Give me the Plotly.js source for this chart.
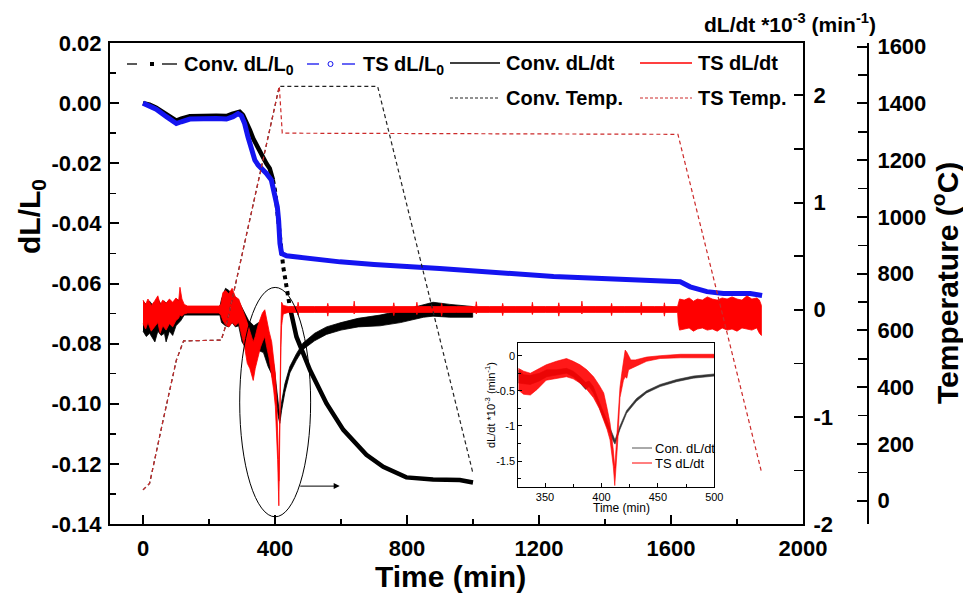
<!DOCTYPE html>
<html><head><meta charset="utf-8">
<script src="https://cdn.plot.ly/plotly-3.0.1.min.js"></script>
<style>html,body{margin:0;padding:0;background:#fff}#chart{width:963px;height:598px}</style>
</head><body><div id="chart"></div>
<script>
// ---------- DATA ----------
// TS dL/L0 (left axis)
const tsL0T = [0, 20, 40, 71, 101, 116, 142, 222, 253, 273, 288, 298, 308, 318, 329, 339, 349, 359, 374, 389, 399, 407, 411, 413, 415, 420, 435, 597, 700, 899, 1244, 1628, 1658, 1709, 1759, 1840, 1876];
const tsL0V = [0, -0.0008, -0.002, -0.0045, -0.0068, -0.0062, -0.0053, -0.0051, -0.0053, -0.0045, -0.0035, -0.0042, -0.0068, -0.0112, -0.0157, -0.019, -0.0206, -0.0217, -0.0234, -0.0256, -0.03, -0.0345, -0.039, -0.0434, -0.0467, -0.05, -0.0508, -0.0528, -0.0537, -0.055, -0.0577, -0.0594, -0.0611, -0.0627, -0.0633, -0.0633, -0.064];
// Conv. dL/L0 (left axis)
const convL0T = [0, 20, 40, 71, 101, 116, 142, 222, 253, 270, 283, 293, 303, 313, 324, 334, 344, 354, 364, 374, 384, 389, 394, 400, 405, 410, 415, 420, 425, 430, 437, 445, 465, 506, 556, 607, 652, 677, 728, 798, 879, 960, 1000];
const convL0V = [0, -0.0005, -0.0015, -0.0038, -0.0058, -0.0052, -0.0044, -0.0042, -0.0043, -0.0036, -0.003, -0.0029, -0.004, -0.0062, -0.009, -0.0118, -0.014, -0.0162, -0.0184, -0.0201, -0.0217, -0.024, -0.0256, -0.029, -0.034, -0.04, -0.046, -0.0511, -0.0545, -0.0578, -0.062, -0.0678, -0.0777, -0.0888, -0.0999, -0.1087, -0.114, -0.117, -0.121, -0.1245, -0.1252, -0.1254, -0.1262];
// steep part of Conv. dL/L0 drawn as separate dots
const convL0DotFrom = 394, convL0DotTo = 445;

// TS dL/dt (right axis, *1e-3 min^-1): time, upper and lower edge of the noisy trace
const tsRateT = [0, 8, 15, 25, 35, 45, 52, 60, 70, 80,
  90, 100, 108, 112, 118, 125, 135, 230, 236, 242,
  250, 260, 270, 280, 290, 300, 308, 316, 324, 330,
  334, 340, 348, 356, 362, 369, 375, 382, 390, 396,
  401, 405, 408, 410.5, 411.6, 412.7, 414, 416, 418, 420,
  422, 425, 440, 468, 470, 472, 520, 558, 560, 562,
  600, 638, 640, 642, 700, 758, 760, 762, 800, 828,
  830, 832, 870, 903, 905, 907, 950, 1008, 1010, 1012,
  1050, 1088, 1090, 1092, 1130, 1178, 1180, 1182, 1220, 1258,
  1260, 1262, 1300, 1328, 1330, 1332, 1370, 1418, 1420, 1422,
  1460, 1508, 1510, 1512, 1550, 1578, 1580, 1582, 1620, 1622,
  1626, 1640, 1655, 1668, 1680, 1695, 1710, 1725, 1740, 1755,
  1770, 1785, 1800, 1815, 1830, 1845, 1860, 1868, 1874];
const tsRateUp = [0.09, 0.05, 0.10, 0.04, 0.08, 0.13, 0.05, 0.09, 0.06, 0.10,
  0.07, 0.11, 0.08, 0.21, 0.10, 0.05, 0.035, 0.035, 0.05, 0.16,
  0.18, 0.15, 0.20, 0.12, 0.10, 0.02, -0.05, -0.12, -0.20, -0.25,
  -0.30, -0.25, -0.15, -0.08, -0.03, 0.00, -0.10, -0.20, -0.30, -0.45,
  -0.60, -0.85, -1.10, -1.40, -1.60, -1.30, -0.90, -0.45, -0.15, 0.07,
  0.05, 0.04, 0.03, 0.03, 0.07, 0.03, 0.03, 0.03, 0.06, 0.03,
  0.03, 0.03, 0.08, 0.03, 0.03, 0.03, 0.065, 0.03, 0.03, 0.03,
  0.07, 0.03, 0.03, 0.03, 0.06, 0.03, 0.03, 0.03, 0.075, 0.03,
  0.03, 0.03, 0.06, 0.03, 0.03, 0.03, 0.07, 0.03, 0.03, 0.03,
  0.065, 0.03, 0.03, 0.03, 0.08, 0.03, 0.03, 0.03, 0.06, 0.03,
  0.03, 0.03, 0.07, 0.03, 0.03, 0.03, 0.065, 0.03, 0.03, 0.06,
  0.10, 0.09, 0.11, 0.08, 0.10, 0.09, 0.12, 0.10, 0.09, 0.11,
  0.10, 0.12, 0.10, 0.09, 0.13, 0.10, 0.11, 0.09, 0.04];
const tsRateLo = [-0.13, -0.18, -0.12, -0.20, -0.16, -0.12, -0.22, -0.15, -0.19, -0.13,
  -0.16, -0.10, -0.08, -0.05, -0.06, -0.04, -0.03, -0.03, -0.05, -0.10,
  -0.14, -0.16, -0.12, -0.15, -0.12, -0.25, -0.35, -0.50, -0.55, -0.62,
  -0.66, -0.55, -0.45, -0.35, -0.30, -0.25, -0.35, -0.45, -0.60, -0.75,
  -0.90, -1.10, -1.40, -1.70, -1.83, -1.60, -1.20, -0.70, -0.35, -0.15,
  -0.10, -0.04, -0.025, -0.025, -0.05, -0.025, -0.025, -0.025, -0.06, -0.025,
  -0.025, -0.025, -0.04, -0.025, -0.025, -0.025, -0.055, -0.025, -0.025, -0.025,
  -0.045, -0.025, -0.025, -0.025, -0.06, -0.025, -0.025, -0.025, -0.04, -0.025,
  -0.025, -0.025, -0.055, -0.025, -0.025, -0.025, -0.045, -0.025, -0.025, -0.025,
  -0.06, -0.025, -0.025, -0.025, -0.04, -0.025, -0.025, -0.025, -0.055, -0.025,
  -0.025, -0.025, -0.05, -0.025, -0.025, -0.025, -0.06, -0.025, -0.025, -0.12,
  -0.19, -0.18, -0.17, -0.20, -0.18, -0.17, -0.19, -0.18, -0.20, -0.17,
  -0.19, -0.18, -0.20, -0.17, -0.18, -0.19, -0.17, -0.22, -0.24];

// Conv. dL/dt (right axis)
const convRateT = [0, 10, 20, 30, 36, 45, 55, 65, 70, 80,
  90, 100, 115, 125, 233, 238, 250, 260, 270, 280,
  290, 300, 310, 320, 336, 350, 365, 379, 390, 398,
  404, 410, 414.6, 420, 430, 445, 465, 485, 520, 556,
  600, 652, 718, 780, 850, 879, 930, 981, 999];
const convRateUp = [0.08, 0.05, 0.08, 0.04, 0.06, 0.10, 0.05, 0.08, 0.06, 0.09,
  0.05, 0.10, 0.08, 0.03, 0.03, 0.10, 0.20, 0.18, 0.15, 0.12,
  0.08, 0.02, -0.05, -0.10, -0.15, -0.12, -0.15, -0.28, -0.40, -0.55,
  -0.70, -0.90, -1.00, -0.86, -0.69, -0.53, -0.41, -0.31, -0.22, -0.16,
  -0.12, -0.08, -0.05, -0.01, 0.05, 0.07, 0.05, 0.03, 0.03];
const convRateLo = [-0.20, -0.25, -0.22, -0.27, -0.30, -0.20, -0.24, -0.22, -0.30, -0.20,
  -0.24, -0.15, -0.10, -0.05, -0.05, -0.12, -0.15, -0.16, -0.12, -0.16,
  -0.15, -0.30, -0.35, -0.32, -0.35, -0.38, -0.40, -0.53, -0.60, -0.72,
  -0.85, -1.00, -1.06, -0.94, -0.77, -0.59, -0.47, -0.37, -0.29, -0.23,
  -0.19, -0.16, -0.15, -0.12, -0.07, -0.06, -0.07, -0.07, -0.07];

// Temperatures (far right axis, deg C)
const tsTempT = [0, 20, 61, 101, 123, 237, 257, 413, 422, 1621, 1874];
const tsTempV = [38, 61, 284, 495, 563, 566, 640, 1460, 1295, 1291, 102];
const convTempT = [0, 20, 61, 101, 123, 237, 257, 413, 711, 1000];
const convTempV = [38, 61, 284, 495, 563, 566, 640, 1460, 1460, 96];

// Inset: dL/dt between 326 and 500 min
const inTsT = [326.3, 331, 337, 343, 351, 360, 369, 375, 381, 387,
  393, 398, 402, 405, 407.6, 410.5, 411.8, 413, 414.5, 416.4,
  418, 419.5, 421, 422.5, 424, 426, 430, 440, 452, 470, 500];
const inTsUp = [-0.18, -0.22, -0.25, -0.20, -0.13, -0.08, -0.04, -0.08, -0.13, -0.20,
  -0.30, -0.42, -0.53, -0.75, -0.96, -1.34, -1.60, -1.30, -0.90, -0.45,
  -0.25, -0.10, 0.08, 0.05, 0.00, -0.06, -0.06, -0.02, 0.00, 0.02, 0.02];
const inTsLo = [-0.49, -0.55, -0.56, -0.48, -0.35, -0.32, -0.30, -0.33, -0.39, -0.48,
  -0.60, -0.75, -0.91, -1.05, -1.20, -1.58, -1.85, -1.60, -1.20, -0.60,
  -0.45, -0.35, -0.30, -0.32, -0.20, -0.18, -0.15, -0.08, -0.04, -0.03, -0.03];
const inConvT = [326.3, 331, 337, 345, 351.5, 360, 369, 375, 381, 386,
  389, 392.8, 398.6, 404.6, 410.5, 412, 416.4, 422.3, 431, 440,
  452, 466.6, 481.4, 500];
const inConvUp = [-0.20, -0.27, -0.28, -0.25, -0.20, -0.20, -0.18, -0.22, -0.30, -0.38,
  -0.36, -0.44, -0.68, -0.92, -1.15, -1.20, -1.00, -0.78, -0.61, -0.50,
  -0.41, -0.34, -0.29, -0.26];
const inConvLo = [-0.39, -0.40, -0.41, -0.36, -0.30, -0.28, -0.25, -0.30, -0.39, -0.48,
  -0.44, -0.53, -0.75, -1.00, -1.22, -1.26, -1.05, -0.82, -0.65, -0.53,
  -0.44, -0.37, -0.32, -0.29];

// Ticks
const xTicks = [0, 400, 800, 1200, 1600, 2000];
const xTickText = ['0', '400', '800', '1200', '1600', '2000'];
const xMinor = [200, 600, 1000, 1400, 1800];
const yTicks = [0.02, 0, -0.02, -0.04, -0.06, -0.08, -0.10, -0.12, -0.14];
const yTickText = ['0.02', '0.00', '-0.02', '-0.04', '-0.06', '-0.08', '-0.10', '-0.12', '-0.14'];
const yMinor = [0.01, -0.01, -0.03, -0.05, -0.07, -0.09, -0.11, -0.13];
const rTicks = [-2, -1, 0, 1, 2];
const rTickText = ['-2', '-1', '0', '1', '2'];
const rMinor = [-1.5, -0.5, 0.5, 1.5];
const tTicks = [0, 200, 400, 600, 800, 1000, 1200, 1400, 1600];
const tTickText = ['0', '200', '400', '600', '800', '1000', '1200', '1400', '1600'];
const tMinor = [100, 300, 500, 700, 900, 1100, 1300, 1500];
const inXTicks = [350, 400, 450, 500];
const inXMinor = [325, 375, 425, 475];
const inYTicks = [0, -0.5, -1, -1.5];
const inYTickText = ['0', '-0.5', '-1', '-1.5'];
const inYMinor = [-0.25, -0.75, -1.25, -1.75];

// ---------- BUILD ----------
const FONT = 'Arial, "Liberation Sans", sans-serif';
const RED = '#ff0000', BLUE = '#1414f0', TRED = '#cc2a2a', TBLK = '#222';

function band(t, up, lo) {
  return { x: t.concat(t.slice().reverse()), y: up.concat(lo.slice().reverse()) };
}
const convSolid = convL0V.map((v, i) => (convL0T[i] > convL0DotFrom && convL0T[i] < convL0DotTo) ? null : v);
const dotIdx = convL0T.map((t, i) => i).filter(i => convL0T[i] >= convL0DotFrom && convL0T[i] <= convL0DotTo);

const bConv = band(convRateT, convRateUp, convRateLo);
const bTs = band(tsRateT, tsRateUp, tsRateLo);
const biConv = band(inConvT, inConvUp, inConvLo);
const biTs = band(inTsT, inTsUp, inTsLo);

const traces = [
  { name: 'Conv. dL/dt', x: bConv.x, y: bConv.y, xaxis: 'x', yaxis: 'y2', mode: 'lines', fill: 'toself', fillcolor: '#000', line: { color: '#000', width: 0.8 }, hoverinfo: 'skip' },
  { name: 'TS dL/dt', x: bTs.x, y: bTs.y, xaxis: 'x', yaxis: 'y2', mode: 'lines', fill: 'toself', fillcolor: RED, line: { color: RED, width: 0.8 }, hoverinfo: 'skip' },
  { name: 'Conv. dL/L0', x: convL0T, y: convSolid, xaxis: 'x', yaxis: 'y', mode: 'lines', connectgaps: false, line: { color: '#000', width: 4.5 } },
  { name: 'Conv. dL/L0 steep', x: dotIdx.map(i => convL0T[i]), y: dotIdx.map(i => convL0V[i]), xaxis: 'x', yaxis: 'y', mode: 'lines', line: { color: '#000', width: 4, dash: 'dot' } },
  { name: 'TS dL/L0', x: tsL0T, y: tsL0V, xaxis: 'x', yaxis: 'y', mode: 'lines', line: { color: BLUE, width: 5 } },
  { name: 'Conv. Temp.', x: convTempT, y: convTempV, xaxis: 'x', yaxis: 'y3', mode: 'lines', line: { color: TBLK, width: 1.2, dash: '4px,3px' } },
  { name: 'TS Temp.', x: tsTempT, y: tsTempV, xaxis: 'x', yaxis: 'y3', mode: 'lines', line: { color: TRED, width: 1.2, dash: '4px,3px' } },
  { name: 'Con. dL/dt (inset)', x: biConv.x, y: biConv.y, xaxis: 'x2', yaxis: 'y4', mode: 'lines', fill: 'toself', fillcolor: '#333', line: { color: '#333', width: 0.6 }, hoverinfo: 'skip' },
  { name: 'TS dL/dt (inset)', x: biTs.x, y: biTs.y, xaxis: 'x2', yaxis: 'y4', mode: 'lines', fill: 'toself', fillcolor: 'rgba(255,0,0,0.9)', line: { color: RED, width: 0.6 }, hoverinfo: 'skip' }
];

// pixel -> paper helpers (plot area: x 110..923, y 43..524)
const ML = 110, MR = 40, MT = 43, MB = 74, W = 963, H = 598;
const PW = W - ML - MR, PH = H - MT - MB;
const px = v => (v - ML) / PW;
const py = v => (H - MB - v) / PH;

const bold = { family: FONT, size: 22, color: '#000', weight: 'bold' };
function axisBase(extra) {
  return Object.assign({ showline: true, linecolor: '#000', linewidth: 2, showgrid: false, zeroline: false,
    ticks: 'inside', tickwidth: 2, ticklen: 9, tickcolor: '#000', tickfont: bold, tickmode: 'array' }, extra);
}

const annotations = [
  { text: 'dL/L<sub>0</sub>', x: px(31), y: py(217), textangle: -90, font: { family: FONT, size: 30, weight: 'bold' } },
  { text: 'Time (min)', x: px(450), y: py(576), font: { family: FONT, size: 30, weight: 'bold' } },
  { text: 'Temperature (<sup>o</sup>C)', x: px(945), y: py(283), textangle: -90, font: { family: FONT, size: 30, weight: 'bold' } },
  { text: 'dL/dt *10<sup>-3</sup> (min<sup>-1</sup>)', x: px(790), y: py(23), font: { family: FONT, size: 21, weight: 'bold' } },
  // legend texts
  { text: 'Conv. dL/L<sub>0</sub>', x: px(182), y: py(66), xanchor: 'left', font: { family: FONT, size: 20, weight: 'bold' } },
  { text: 'TS dL/L<sub>0</sub>', x: px(361), y: py(66), xanchor: 'left', font: { family: FONT, size: 20, weight: 'bold' } },
  { text: 'Conv. dL/dt', x: px(504), y: py(63), xanchor: 'left', font: { family: FONT, size: 20, weight: 'bold' } },
  { text: 'TS dL/dt', x: px(696), y: py(63), xanchor: 'left', font: { family: FONT, size: 20, weight: 'bold' } },
  { text: 'Conv. Temp.', x: px(504), y: py(98), xanchor: 'left', font: { family: FONT, size: 20, weight: 'bold' } },
  { text: 'TS Temp.', x: px(696), y: py(98), xanchor: 'left', font: { family: FONT, size: 20, weight: 'bold' } },
  // inset texts
  { text: 'dL/dt *10<sup>-3</sup> (min<sup>-1</sup>)', x: px(490), y: py(405), textangle: -90, font: { family: FONT, size: 11 } },
  { text: 'Time (min)', x: px(621), y: py(508), font: { family: FONT, size: 12 } },
  { text: 'Con. dL/dt', x: px(653), y: py(448), xanchor: 'left', font: { family: FONT, size: 13 } },
  { text: 'TS dL/dt', x: px(653), y: py(463), xanchor: 'left', font: { family: FONT, size: 13 } },
  // arrow from the ellipse toward the inset
  { text: '', x: 596, y: -0.1274, ax: 472, ay: -0.1274, xref: 'x', yref: 'y', axref: 'x', ayref: 'y', showarrow: true, arrowhead: 2, arrowsize: 1.2, arrowwidth: 1, arrowcolor: '#000' }
].map(a => Object.assign({ xref: 'paper', yref: 'paper', showarrow: false, xanchor: 'center', yanchor: 'middle' }, a));

function pline(x0, x1, y, color, width, dash) {
  return { type: 'line', xref: 'paper', yref: 'paper', x0: px(x0), x1: px(x1), y0: py(y), y1: py(y), line: { color, width, dash: dash || 'solid' } };
}
const shapes = [
  pline(127, 137, 64, '#000', 1.3), pline(162, 177, 64, '#000', 1.3),
  { type: 'rect', xref: 'paper', yref: 'paper', x0: px(150), x1: px(154), y0: py(62), y1: py(66), fillcolor: '#000', line: { width: 0 } },
  pline(307, 319, 64, BLUE, 1.3), pline(342, 355, 64, BLUE, 1.3),
  { type: 'circle', xref: 'paper', yref: 'paper', x0: px(328), x1: px(333), y0: py(61.5), y1: py(66.5), line: { color: BLUE, width: 1 } },
  pline(450, 500, 63, '#000', 1.3),
  pline(640, 692, 63, RED, 1.5),
  pline(450, 500, 98, TBLK, 1, '3px,2px'),
  pline(640, 692, 98, TRED, 1, '3px,2px'),
  pline(632, 652, 448, '#555', 1),
  pline(632, 652, 463, RED, 1),
  // ellipse around the sintering peak
  { type: 'circle', xref: 'x', yref: 'y', x0: 293, x1: 508, y0: -0.1376, y1: -0.0613, line: { color: '#000', width: 1 } }
];

const layout = {
  width: W, height: H, margin: { l: ML, r: MR, t: MT, b: MB },
  paper_bgcolor: '#fff', plot_bgcolor: 'rgba(0,0,0,0)', showlegend: false,
  font: { family: FONT, color: '#000' },
  xaxis: axisBase({ domain: [0, (803 - ML) / PW], range: [-100, 2000], anchor: 'y', mirror: true,
    tickvals: xTicks, ticktext: xTickText, ticklabelstandoff: 4,
    minor: { tickmode: 'array', tickvals: xMinor, ticks: 'inside', ticklen: 5, tickwidth: 1.5, tickcolor: '#000' } }),
  yaxis: axisBase({ domain: [0, 1], range: [-0.14, 0.02], anchor: 'x',
    tickvals: yTicks, ticktext: yTickText, ticklabelstandoff: 2,
    minor: { tickmode: 'array', tickvals: yMinor, ticks: 'inside', ticklen: 6, tickwidth: 1.5, tickcolor: '#000' } }),
  yaxis2: axisBase({ overlaying: 'y', side: 'right', anchor: 'x', range: [-2, 2.49],
    tickvals: rTicks, ticktext: rTickText, ticklabelstandoff: 4,
    minor: { tickmode: 'array', tickvals: rMinor, ticks: 'inside', ticklen: 9, tickwidth: 1.5, tickcolor: '#000' } }),
  yaxis3: axisBase({ overlaying: 'y', side: 'right', anchor: 'free', position: (868 - ML) / PW, range: [-82, 1612.7],
    tickvals: tTicks, ticktext: tTickText, ticklen: 10, ticklabelstandoff: 4,
    minor: { tickmode: 'array', tickvals: tMinor, ticks: 'inside', ticklen: 9, tickwidth: 1.5, tickcolor: '#000' } }),
  xaxis2: axisBase({ domain: [px(518.3), px(714.3)], anchor: 'y4', range: [326.3, 500], mirror: true, linewidth: 1,
    tickwidth: 1, ticklen: 4, tickvals: inXTicks, ticktext: inXTicks.map(String),
    tickfont: { family: FONT, size: 11, color: '#000' },
    minor: { tickmode: 'array', tickvals: inXMinor, ticks: 'inside', ticklen: 2.5, tickwidth: 1, tickcolor: '#000' } }),
  yaxis4: axisBase({ domain: [py(486.7), py(342.7)], anchor: 'x2', range: [-1.866, 0.185], mirror: true, linewidth: 1,
    tickwidth: 1, ticklen: 4, tickvals: inYTicks, ticktext: inYTickText,
    tickfont: { family: FONT, size: 11, color: '#000' },
    minor: { tickmode: 'array', tickvals: inYMinor, ticks: 'inside', ticklen: 2.5, tickwidth: 1, tickcolor: '#000' } }),
  annotations, shapes
};

Plotly.newPlot('chart', traces, layout, { displayModeBar: false, staticPlot: true });
</script></body></html>
